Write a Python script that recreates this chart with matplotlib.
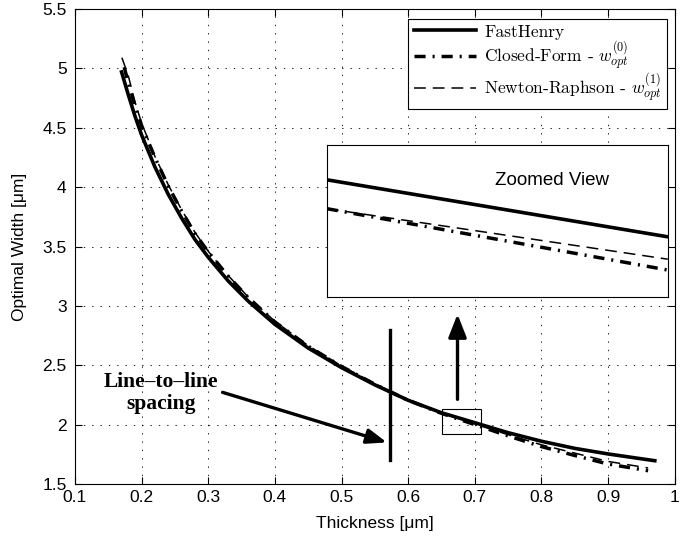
import matplotlib

matplotlib.use("Agg")
import matplotlib.pyplot as plt
from matplotlib.patches import Rectangle

# main curves
fh_x = [0.17, 0.18, 0.19, 0.2, 0.22, 0.24, 0.26, 0.28, 0.3, 0.33, 0.36, 0.4, 0.45, 0.5,
        0.55, 0.6, 0.65, 0.7, 0.75, 0.8, 0.85, 0.9, 0.97]
fh_y = [4.97, 4.78, 4.60, 4.44, 4.17, 3.94, 3.74, 3.56, 3.41, 3.21, 3.04, 2.845, 2.645, 2.48,
        2.335, 2.205, 2.10, 2.016, 1.932, 1.86, 1.80, 1.753, 1.696]

cf_x = [0.174, 0.18, 0.19, 0.2, 0.22, 0.24, 0.26, 0.28, 0.3, 0.33, 0.36, 0.4, 0.45, 0.5,
        0.55, 0.6, 0.65, 0.7, 0.75, 0.8, 0.85, 0.9, 0.96]
cf_y = [5.01, 4.88, 4.69, 4.52, 4.25, 4.01, 3.80, 3.61, 3.455, 3.25, 3.07, 2.865, 2.66, 2.49,
        2.34, 2.205, 2.095, 2.00, 1.905, 1.815, 1.74, 1.668, 1.612]

nr_x = [0.1705, 0.18, 0.19, 0.2, 0.22, 0.24, 0.26, 0.28, 0.3, 0.33, 0.36, 0.4, 0.45, 0.5,
        0.55, 0.6, 0.65, 0.7, 0.75, 0.8, 0.85, 0.9, 0.96]
nr_y = [5.09, 4.94, 4.72, 4.54, 4.26, 4.02, 3.81, 3.62, 3.46, 3.255, 3.075, 2.87, 2.665, 2.495,
        2.345, 2.21, 2.10, 2.005, 1.915, 1.83, 1.76, 1.69, 1.635]

# zoomed view (inset) values
zoom_xlim = (0.65, 0.71)
zoom_ylim = (1.92, 2.13)
zfh_x = [0.65, 0.71]
zfh_y = [2.082, 2.003]
zcf_x = [0.65, 0.71]
zcf_y = [2.042, 1.957]
znr_x = [0.65, 0.71]
znr_y = [2.042, 1.972]

x_ticks = [0.1, 0.2, 0.3, 0.4, 0.5, 0.6, 0.7, 0.8, 0.9, 1.0]
x_labels = ["0.1", "0.2", "0.3", "0.4", "0.5", "0.6", "0.7", "0.8", "0.9", "1"]
y_ticks = [1.5, 2.0, 2.5, 3.0, 3.5, 4.0, 4.5, 5.0, 5.5]
y_labels = ["1.5", "2", "2.5", "3", "3.5", "4", "4.5", "5", "5.5"]

labels = [
    "FastHenry",
    r"Closed-Form - $w_{opt}^{(0)}$",
    r"Newton-Raphson - $w_{opt}^{(1)}$",
]

spacing_x = 0.5725
spacing_y = (1.70, 2.80)

plt.rcParams["font.family"] = ["Liberation Sans", "DejaVu Sans"]
plt.rcParams["mathtext.fontset"] = "cm"
plt.rcParams["lines.scale_dashes"] = False

SOLID = dict(color="black", lw=2.6, ls="-")
DASHDOT = dict(color="black", lw=2.5, ls=(0, (8, 5, 1.5, 5)))
DASHED = dict(color="black", lw=1.1, ls=(0, (8.5, 5)))


def main() -> None:
    fig = plt.figure(figsize=(7, 5.4), dpi=100)
    ax = fig.add_axes([0.107, 0.1037, 0.857, 0.8796])

    ax.plot(fh_x, fh_y, label=labels[0], **SOLID)
    ax.plot(cf_x, cf_y, label=labels[1], **DASHDOT)
    ax.plot(nr_x, nr_y, label=labels[2], **DASHED)

    ax.set_xlim(0.1, 1.0)
    ax.set_ylim(1.5, 5.5)
    ax.set_xticks(x_ticks)
    ax.set_xticklabels(x_labels)
    ax.set_yticks(y_ticks)
    ax.set_yticklabels(y_labels)
    ax.tick_params(direction="in", top=True, right=True, labelsize=12.5, length=5, width=0.8)
    ax.tick_params(axis="x", pad=4)
    ax.tick_params(axis="y", pad=6)
    ax.grid(True, color="black", ls=(0, (1, 5)), lw=0.6)
    for sp in ax.spines.values():
        sp.set_linewidth(0.8)

    ax.set_xlabel("Thickness [\u03bcm]", fontsize=12.5)
    ax.set_ylabel("Optimal Width [\u03bcm]", fontsize=12.5)
    ax.xaxis.set_label_coords(0.5, -0.068)
    ax.yaxis.set_label_coords(-0.08, 0.5)

    leg = ax.legend(
        loc="upper right",
        bbox_to_anchor=(0.987, 0.979),
        borderaxespad=0,
        fancybox=False,
        edgecolor="black",
        framealpha=1,
        handlelength=3.6,
        handletextpad=0.45,
        labelspacing=0.0,
        borderpad=0.3,
        prop={"family": "cmr10", "size": 12.5},
    )
    leg.get_frame().set_linewidth(0.8)

    # zoom box on main axes
    ax.add_patch(Rectangle((zoom_xlim[0], zoom_ylim[0]), zoom_xlim[1] - zoom_xlim[0],
                           zoom_ylim[1] - zoom_ylim[0], fill=False, ec="black", lw=0.8, zorder=5))

    # line-to-line spacing marker and arrows
    ax.plot([spacing_x, spacing_x], spacing_y, color="black", lw=2.4)
    ax.annotate("", xy=(0.568, 1.85), xytext=(0.3215, 2.272),
                arrowprops=dict(arrowstyle="-|>,head_length=1.2,head_width=0.45", color="black", lw=2.4,
                                shrinkA=0, shrinkB=0))
    ax.annotate("", xy=(0.674, 2.93), xytext=(0.674, 2.213),
                arrowprops=dict(arrowstyle="-|>,head_length=1.4,head_width=0.55", color="black", lw=2.4,
                                shrinkA=0, shrinkB=0))
    ax.text(0.229, 2.265, "Line\u2013to\u2013line\nspacing", ha="center", va="center",
            fontsize=15.5, fontweight="bold", family="Liberation Serif", linespacing=1.12)

    # zoomed view inset
    ins = fig.add_axes([0.467, 0.4505, 0.487, 0.2807])
    ins.plot(zfh_x, zfh_y, **SOLID)
    ins.plot(zcf_x, zcf_y, **DASHDOT)
    ins.plot(znr_x, znr_y, **DASHED)
    ins.set_xlim(*zoom_xlim)
    ins.set_ylim(*zoom_ylim)
    ins.set_xticks([])
    ins.set_yticks([])
    for sp in ins.spines.values():
        sp.set_linewidth(0.8)
    ins.text(0.66, 0.77, "Zoomed View", transform=ins.transAxes, ha="center", va="center", fontsize=13.5)

    fig.savefig("out.png", dpi=100)
    plt.close(fig)


if __name__ == "__main__":
    main()
